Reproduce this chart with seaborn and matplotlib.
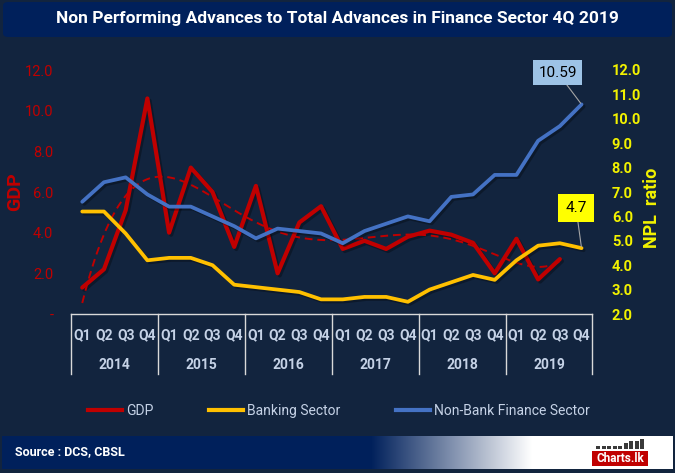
import numpy as np
import pandas as pd
import matplotlib
matplotlib.use("Agg")
import matplotlib.pyplot as plt
import seaborn as sns
from matplotlib.patches import Rectangle, FancyBboxPatch
from matplotlib.lines import Line2D
import matplotlib.patheffects as pe
from matplotlib.ticker import FuncFormatter, FixedLocator

# ---------------- data ----------------
years = ["2014", "2015", "2016", "2017", "2018", "2019"]
quarters = ["Q1", "Q2", "Q3", "Q4"]
gdp = [1.3, 2.2, 5.1, 10.6, 4.0, 7.2, 6.0, 3.3, 6.3, 2.0, 4.5, 5.3,
       3.2, 3.6, 3.2, 3.8, 4.1, 3.9, 3.5, 2.0, 3.7, 1.7, 2.7]
banking = [6.2, 6.2, 5.3, 4.2, 4.3, 4.3, 4.0, 3.2, 3.1, 3.0, 2.9, 2.6,
           2.6, 2.7, 2.7, 2.5, 3.0, 3.3, 3.6, 3.4, 4.2, 4.8, 4.9, 4.7]
nonbank = [6.6, 7.4, 7.6, 6.9, 6.4, 6.4, 6.0, 5.6, 5.1, 5.5, 5.4, 5.3,
           4.9, 5.4, 5.7, 6.0, 5.8, 6.8, 6.9, 7.7, 7.7, 9.1, 9.7, 10.59]
left_ticks = [0, 2, 4, 6, 8, 10, 12]
right_ticks = [2, 3, 4, 5, 6, 7, 8, 9, 10, 11, 12]
title = "Non Performing Advances to Total Advances in Finance Sector 4Q 2019"
source = "Source : DCS, CBSL"

# ---------------- style ----------------
BG = "#12243E"
NAVY = "#00205B"
RED = "#C00000"
GOLD = "#FFC000"
BLUE = "#4472C4"
YEL = "#F2F200"
LIGHT = "#C5D2E6"
GRID = "#D9D9D9"

FONT = dict(family="Roboto")

W, H = 675, 473
fig = plt.figure(figsize=(W / 100, H / 100), dpi=100)
fig.patch.set_facecolor(BG)

def px(x0, y0, x1, y1):
    return [x0 / W, 1 - y1 / H, (x1 - x0) / W, (y1 - y0) / H]

ax = fig.add_axes(px(71.4, 70, 592.4, 314))
ax.set_facecolor("none")
ax2 = ax.twinx()

n = len(years) * len(quarters)
df = pd.DataFrame({
    "idx": np.arange(n),
    "banking": banking,
    "nonbank": nonbank,
    "gdp": gdp + [np.nan] * (n - len(gdp)),
})

shadow = [pe.SimpleLineShadow(offset=(1.5, -1.5), alpha=0.3, shadow_color="black"), pe.Normal()]

sns.lineplot(data=df, x="idx", y="gdp", ax=ax, color=RED, lw=3.0, legend=False)
# polynomial trend line of GDP
xi = np.arange(len(gdp))
coef = np.polyfit(xi, gdp, 6)
xs = np.linspace(0, len(gdp) - 1, 200)
ax.plot(xs, np.polyval(coef, xs), color=RED, lw=1.4, ls=(0, (4, 2.5)))

sns.lineplot(data=df, x="idx", y="banking", ax=ax2, color=GOLD, lw=2.7, legend=False)
sns.lineplot(data=df, x="idx", y="nonbank", ax=ax2, color=BLUE, lw=2.7, legend=False)
for a in (ax, ax2):
    for ln in a.lines:
        if ln.get_linestyle() == "-":
            ln.set_path_effects(shadow)
            ln.set_solid_capstyle("round")
            ln.set_clip_on(False)

ax.set_xlim(-0.5, n - 0.5)
ax.set_ylim(0, 12)
ax2.set_ylim(2, 12)

for a in (ax, ax2):
    for s in a.spines.values():
        s.set_visible(False)
    a.set_xlabel("")
    a.set_ylabel("")
ax.set_xticks([])

ax.yaxis.set_major_locator(FixedLocator(left_ticks))
ax.yaxis.set_major_formatter(FuncFormatter(lambda v, p: "-" if v == 0 else f"{v:.1f}"))
ax.tick_params(axis="y", length=0, pad=13, labelcolor=RED, labelsize=10.5)
ax2.yaxis.set_major_locator(FixedLocator(right_ticks))
ax2.yaxis.set_major_formatter(FuncFormatter(lambda v, p: f"{v:.1f}"))
ax2.tick_params(axis="y", length=0, pad=14, labelcolor=YEL, labelsize=10.5)
for lab in ax.get_yticklabels():
    lab.set(**FONT)
for lab in ax2.get_yticklabels():
    lab.set(**FONT, weight="bold")

fig.text(15 / W, 1 - 192 / H, "GDP", rotation=90, color=RED, fontsize=14,
         weight="bold", ha="center", va="center", **FONT)
fig.text(652 / W, 1 - 208 / H, "NPL  ratio", rotation=90, color=YEL, fontsize=13,
         weight="bold", ha="center", va="center", **FONT)

# ---------------- multi-level category axis ----------------
tr = ax.get_xaxis_transform()
ax.plot([-0.5, n - 0.5], [0, 0], transform=tr, color=GRID, lw=1, clip_on=False)
for k in range(len(years) + 1):
    xb = -0.5 + 4 * k
    ax.plot([xb, xb], [0, -0.246], transform=tr, color=GRID, lw=1, clip_on=False)
for i in range(n):
    ax.text(i, -0.086, quarters[i % 4], transform=tr, ha="center", va="center",
            color=LIGHT, fontsize=10, weight="bold", clip_on=False, **FONT)
for k, yr in enumerate(years):
    ax.text(1.5 + 4 * k, -0.207, yr, transform=tr, ha="center", va="center",
            color=LIGHT, fontsize=10, weight="bold", clip_on=False, **FONT)

# ---------------- data labels ----------------
ax2.annotate(f"{nonbank[-1]:.2f}", xy=(n - 1, nonbank[-1]), xycoords="data",
             xytext=(557.5, H - 72.5), textcoords="figure pixels",
             ha="center", va="center", fontsize=11, color="black", **FONT,
             bbox=dict(boxstyle="square,pad=0.35", fc="#9DC3E6", ec="none"),
             arrowprops=dict(arrowstyle="-", color="#A6A6A6", lw=0.8,
                             shrinkA=0, shrinkB=1))
ax2.annotate(f"{banking[-1]:.1f}", xy=(n - 1, banking[-1]), xycoords="data",
             xytext=(576, H - 208), textcoords="figure pixels",
             ha="center", va="center", fontsize=11, color="black", **FONT,
             bbox=dict(boxstyle="square,pad=0.45", fc="#FFFF00", ec="none"),
             arrowprops=dict(arrowstyle="-", color="#A6A6A6", lw=0.8,
                             shrinkA=0, shrinkB=1))

# ---------------- legend ----------------
handles = [Line2D([], [], color=RED, lw=3),
           Line2D([], [], color=GOLD, lw=3),
           Line2D([], [], color=BLUE, lw=3)]
leg = fig.legend(handles, ["GDP", "Banking Sector", "Non-Bank Finance Sector"],
                 loc="center left", bbox_to_anchor=(87.5 / W, 1 - 411 / H),
                 ncol=3, frameon=False, borderpad=0, borderaxespad=0,
                 handlelength=2.5, handletextpad=0.25, columnspacing=4.0,
                 prop=dict(size=10, **FONT))
for t in leg.get_texts():
    t.set_color(LIGHT)

# ---------------- title bar ----------------
fig.patches.append(FancyBboxPatch((3 / W, 1 - 37 / H), 669 / W, 35 / H,
                                  boxstyle="round,pad=0,rounding_size=0.008",
                                  transform=fig.transFigure, fc=NAVY, ec="none"))
fig.text(0.5, 1 - 19 / H, title, color="white", fontsize=12.5, weight="bold",
         ha="center", va="center", **FONT)

# ---------------- source bar ----------------
sax = fig.add_axes(px(2, 436, 673, 469))
grad = np.linspace(0, 1, 671)
t = np.clip((grad - 0.55) / (0.79 - 0.55), 0, 1)
c0 = np.array(matplotlib.colors.to_rgb(NAVY))
c1 = np.array([1.0, 1.0, 1.0])
img = (c0[None, :] * (1 - t[:, None]) + c1[None, :] * t[:, None])[None, :, :]
sax.imshow(img, aspect="auto", extent=(0, 1, 0, 1))
sax.set_axis_off()
fig.text(15 / W, 1 - 452 / H, source, color="white", fontsize=9, weight="bold",
         ha="left", va="center", **FONT)
# logo
fig.patches.append(Rectangle((592 / W, 1 - 466 / H), 56 / W, 15 / H,
                             transform=fig.transFigure, fc=RED, ec="none"))
fig.text(620 / W, 1 - 458.5 / H, "Charts.lk", color="white", fontsize=8.5,
         weight="bold", ha="center", va="center", **FONT)
for j, hgt in enumerate([3, 3, 3, 3, 3, 6, 8, 8, 10]):
    x0 = 596 + j * 5.5
    fig.patches.append(Rectangle((x0 / W, 1 - 449 / H), 4 / W, hgt / H,
                                 transform=fig.transFigure, fc="#3A3A3A", ec="none"))

fig.savefig("out.png", dpi=100, facecolor=fig.get_facecolor())
